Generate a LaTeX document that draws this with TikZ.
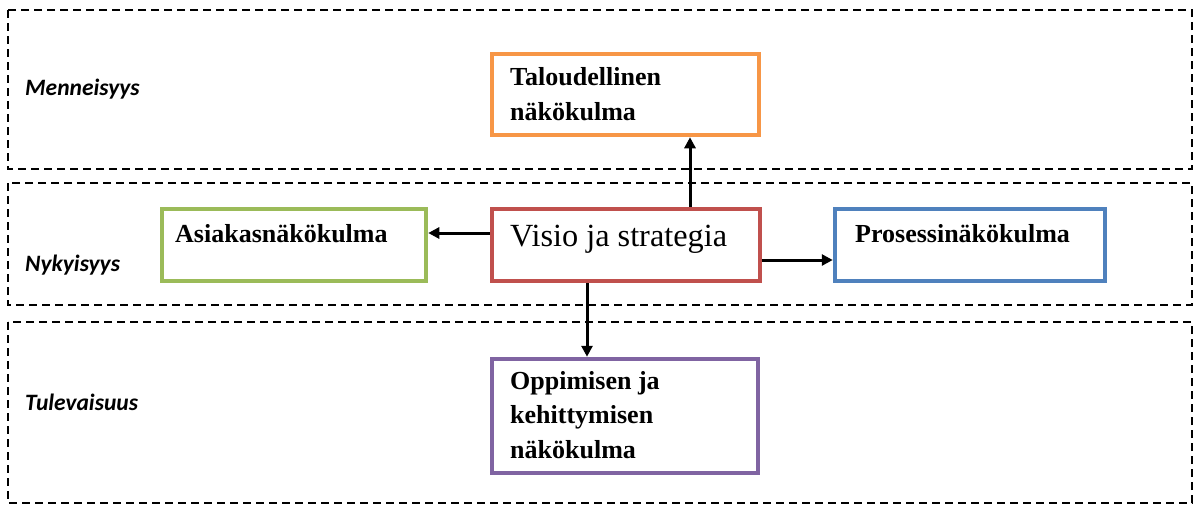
\documentclass[tikz,border=0pt]{standalone}
\usepackage{fontspec}
\setmainfont{Liberation Serif}
\newfontfamily\bandfont{Carlito}
\usetikzlibrary{arrows.meta}

\definecolor{cOrange}{HTML}{F79646}
\definecolor{cGreen}{HTML}{9BBB59}
\definecolor{cRed}{HTML}{C0504D}
\definecolor{cBlue}{HTML}{4F81BD}
\definecolor{cPurple}{HTML}{8064A2}

\tikzset{
  band/.style={draw=black, line width=2pt, dash pattern=on 8pt off 5pt},
  bandlabel/.style={anchor=base west, inner sep=0pt, font=\bandfont\bfseries\itshape\fontsize{23.5}{28}\selectfont},
  persp/.style={draw=#1, line width=4.5pt, fill=white, rectangle, inner sep=0pt},
  persptext/.style={anchor=base west, inner sep=0pt, align=left,
    font=\bfseries\fontsize{26}{34.5}\selectfont},
  visiotext/.style={anchor=base west, inner sep=0pt, font=\fontsize{32.3}{38}\selectfont},
  arr/.style={draw=black, line width=3pt, -{Triangle[length=11pt,width=11pt]}}
}

\begin{document}
\begin{tikzpicture}[x=1pt,y=-1pt]
  \fill[white] (0,0) rectangle (1196,507);
  \useasboundingbox (0,0) rectangle (1196,507);

  % time bands
  \draw[band] (8,10) rectangle (1192,169);
  \draw[band] (8,183) rectangle (1192,305);
  \draw[band] (8,322) rectangle (1192,503);

  \node[bandlabel] (lMenn) at (25,95)  {Menneisyys};
  \node[bandlabel] (lNyky) at (25,271) {Nykyisyys};
  \node[bandlabel] (lTule) at (25,410) {Tulevaisuus};

  % perspective boxes
  \node[persp=cOrange, minimum width=267pt, minimum height=81pt]  (talous)  at (625.5,94.5) {};
  \node[persp=cRed,    minimum width=268pt, minimum height=72pt]  (visio)   at (626,245)    {};
  \node[persp=cGreen,  minimum width=264pt, minimum height=72pt]  (asiakas) at (294,245)    {};
  \node[persp=cBlue,   minimum width=270pt, minimum height=72pt]  (prosessi) at (970,245)   {};
  \node[persp=cPurple, minimum width=266pt, minimum height=114pt] (oppiminen) at (625,416)  {};

  % labels (base anchor sits on the last line)
  \node[persptext] (tTalous) at (510,120) {Taloudellinen\\näkökulma};
  \node[visiotext] (tVisio) at (510,246) {Visio ja strategia};
  \node[persptext] (tAsiakas) at (175,242) {Asiakasnäkökulma};
  \node[persptext] (tProsessi) at (855,242) {Prosessinäkökulma};
  \node[persptext] (tOppiminen) at (510,458) {Oppimisen ja\\kehittymisen\\näkökulma};

  % connectors from the vision box
  \coordinate (upX) at (690,0);
  \coordinate (downX) at (587,0);
  \coordinate (leftY) at (0,233);
  \coordinate (rightY) at (0,260);
  \draw[arr] (visio.north -| upX) -- (talous.south -| upX);
  \draw[arr] (visio.west |- leftY) -- (asiakas.east |- leftY);
  \draw[arr] (visio.east |- rightY) -- (prosessi.west |- rightY);
  \draw[arr] (visio.south -| downX) -- (oppiminen.north -| downX);
\end{tikzpicture}
\end{document}
